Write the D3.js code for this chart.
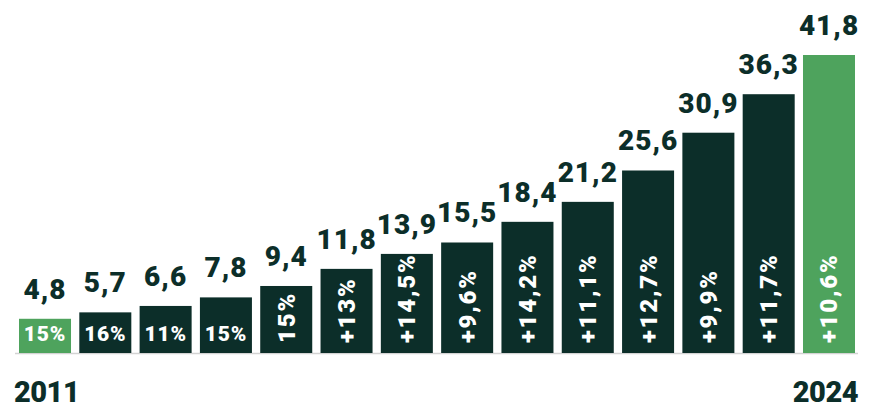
<!DOCTYPE html>
<html><head><meta charset="utf-8">
<script src="https://cdn.jsdelivr.net/npm/d3@7"></script>
<style>
html,body{margin:0;padding:0;background:#fff;}
svg{display:block;font-family:Roboto,"Open Sans",sans-serif;}
</style></head>
<body><svg id="c" width="869" height="408"></svg>
<script>
const years = [2011,2012,2013,2014,2015,2016,2017,2018,2019,2020,2021,2022,2023,2024];
const values = [4.8,5.7,6.6,7.8,9.4,11.8,13.9,15.5,18.4,21.2,25.6,30.9,36.3,41.8];
const growth = ["15%","16%","11%","15%","15%","+13%","+14,5%","+9,6%","+14,2%","+11,1%","+12,7%","+9,9%","+11,7%","+10,6%"];
const highlighted = [2011,2024];
const yearLabels = ["2011","2024"];

const dark = "#0c2e29", green = "#4ea35d";
const svg = d3.select("#c");
const baseY = 353;
const x = d3.scaleBand().domain(years).range([19, 855]).paddingInner(0.1376).paddingOuter(0);
const y = d3.scaleLinear().domain([0, 41.8]).range([baseY, 55]);
const fmt = v => d3.format(".1f")(v).replace(".", ",");

svg.append("line").attr("x1", 15).attr("x2", 858).attr("y1", baseY + 0.5).attr("y2", baseY + 0.5)
  .attr("stroke", "#d3d3d3").attr("stroke-width", 1.5);

const g = svg.selectAll("g.bar").data(years).join("g").attr("class","bar");
g.append("rect")
  .attr("x", d => x(d)).attr("width", x.bandwidth())
  .attr("y", (d,i) => y(values[i])).attr("height", (d,i) => baseY - y(values[i]))
  .attr("fill", d => highlighted.includes(d) ? green : dark);

g.append("text")
  .attr("x", d => x(d) + x.bandwidth()/2)
  .attr("y", (d,i) => y(values[i]) - 20)
  .attr("text-anchor","middle")
  .attr("font-size", 28).attr("font-weight", 900).attr("letter-spacing", 1)
  .attr("fill", dark)
  .text((d,i) => fmt(values[i]));

g.each(function(d,i){
  const cx = x(d) + x.bandwidth()/2;
  const sel = d3.select(this);
  if (i < 4) {
    sel.append("text").attr("x", cx).attr("y", baseY - 12)
      .attr("text-anchor","middle").attr("font-size", 21).attr("font-weight",900)
      .attr("letter-spacing", 0.8)
      .attr("fill","#fff").text(growth[i]);
  } else {
    sel.append("text")
      .attr("transform", `translate(${cx + 8.5},${baseY - 10}) rotate(-90)`)
      .attr("text-anchor","start").attr("font-size", 24).attr("font-weight",900)
      .attr("letter-spacing", 1.8)
      .attr("fill","#fff").text(growth[i]);
  }
});

svg.append("text").attr("x", 14).attr("y", 402).attr("font-size", 29).attr("font-weight",900)
  .attr("letter-spacing", -0.5).attr("fill", dark).text(yearLabels[0]);
svg.append("text").attr("x", 858).attr("y", 402).attr("text-anchor","end").attr("font-size", 29).attr("font-weight",900)
  .attr("letter-spacing", -0.5).attr("fill", dark).text(yearLabels[1]);
</script></body></html>
